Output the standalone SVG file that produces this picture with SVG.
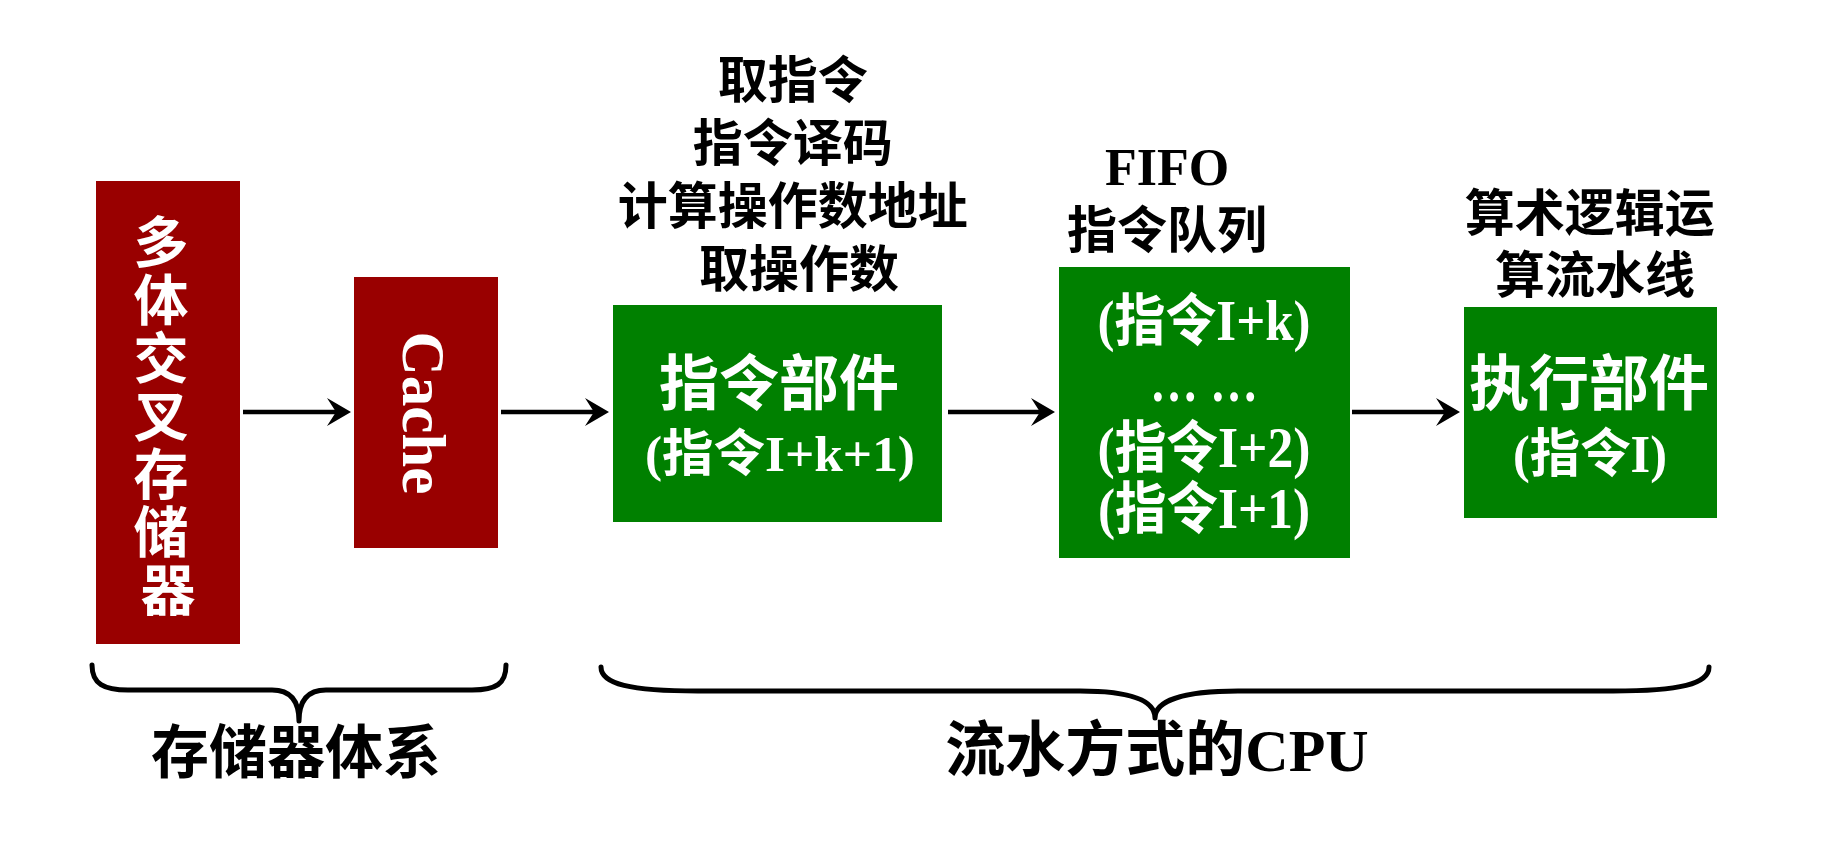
<svg xmlns="http://www.w3.org/2000/svg" width="1828" height="848" viewBox="0 0 1828 848">
<style>
  .red { fill: #990000; }
  .green { fill: #008000; }
  .wt { fill: #ffffff; font-family: "Liberation Serif", "Noto Sans CJK SC", serif; font-weight: bold; text-anchor: middle; }
  .bt { fill: #000000; font-family: "Liberation Serif", "Noto Sans CJK SC", serif; font-weight: bold; text-anchor: middle; }
  .conn { stroke: #000000; stroke-width: 4.5; fill: none; }
  .brace { stroke: #000000; stroke-width: 5; fill: none; stroke-linecap: round; stroke-linejoin: round; }
</style>
<defs>
  <marker id="arr" markerUnits="userSpaceOnUse" viewBox="0 0 24 28" refX="12" refY="14" markerWidth="24" markerHeight="28" orient="auto">
    <path d="M0,0 L24,14 L0,28 L9,14 Z" fill="#000000"/>
  </marker>
</defs>
<rect width="1828" height="848" fill="#ffffff"/>

<g id="memory">
  <rect class="red" x="96" y="181" width="144" height="463"/>
  <text class="wt" font-size="55">
    <tspan x="168" y="262">多</tspan>
    <tspan x="168" y="320">体</tspan>
    <tspan x="168" y="378">交</tspan>
    <tspan x="168" y="436">叉</tspan>
    <tspan x="168" y="494">存</tspan>
    <tspan x="168" y="552">储</tspan>
    <tspan x="168" y="610">器</tspan>
  </text>
</g>

<g id="cache">
  <rect class="red" x="354" y="277" width="144" height="271"/>
  <text class="wt" font-size="62" transform="translate(403,413) rotate(90)" x="0" y="0" textLength="163" lengthAdjust="spacingAndGlyphs">Cache</text>
</g>

<g id="ifu">
  <text class="bt" font-size="50">
    <tspan x="799" y="98">取指令</tspan>
    <tspan x="799" y="161">指令译码</tspan>
    <tspan x="799" y="224">计算操作数地址</tspan>
    <tspan x="799" y="287">取操作数</tspan>
  </text>
  <rect class="green" x="613" y="305" width="329" height="217"/>
  <text class="wt" font-size="60" x="779" y="405">指令部件</text>
  <text class="wt" font-size="50" x="780" y="471" textLength="270" lengthAdjust="spacingAndGlyphs">(指令I+k+1)</text>
</g>

<g id="fifo">
  <text class="bt" font-size="52" x="1167" y="185">FIFO</text>
  <text class="bt" font-size="50" x="1167" y="248">指令队列</text>
  <rect class="green" x="1059" y="267" width="291" height="291"/>
  <text class="wt" font-size="56" x="1204" y="340" textLength="213" lengthAdjust="spacingAndGlyphs">(指令I+k)</text>
  <text class="wt" font-size="56" x="1204" y="401" textLength="108" lengthAdjust="spacingAndGlyphs">… …</text>
  <text class="wt" font-size="56" x="1204" y="467" textLength="213" lengthAdjust="spacingAndGlyphs">(指令I+2)</text>
  <text class="wt" font-size="56" x="1204" y="528" textLength="212" lengthAdjust="spacingAndGlyphs">(指令I+1)</text>
</g>

<g id="exec">
  <text class="bt" font-size="50">
    <tspan x="1596" y="231">算术逻辑运</tspan>
    <tspan x="1595" y="293">算流水线</tspan>
  </text>
  <rect class="green" x="1464" y="307" width="253" height="211"/>
  <text class="wt" font-size="60" x="1589" y="405">执行部件</text>
  <text class="wt" font-size="52" x="1590" y="472" textLength="154" lengthAdjust="spacingAndGlyphs">(指令I)</text>
</g>

<g id="connectors">
  <path class="conn" d="M243,412 H339" marker-end="url(#arr)"/>
  <path class="conn" d="M501,412 H597" marker-end="url(#arr)"/>
  <path class="conn" d="M948,412 H1043" marker-end="url(#arr)"/>
  <path class="conn" d="M1352,412 H1448" marker-end="url(#arr)"/>
</g>

<g id="brace-memory">
  <path class="brace" d="M92,665 C92,684 104,690 128,690 L272,690 C290,690 299,700 299,721 C299,700 308,690 326,690 L472,690 C496,690 506,684 506,665"/>
  <text class="bt" font-size="58" x="296" y="773">存储器体系</text>
</g>

<g id="brace-cpu">
  <path class="brace" d="M601,667 C601,684 630,691 698,691 L1080,691 C1130,691 1155,700 1155,718 C1155,700 1185,691 1238,691 L1613,691 C1680,691 1709,684 1709,667"/>
  <text class="bt" font-size="60" x="1157" y="771">流水方式的CPU</text>
</g>
</svg>
